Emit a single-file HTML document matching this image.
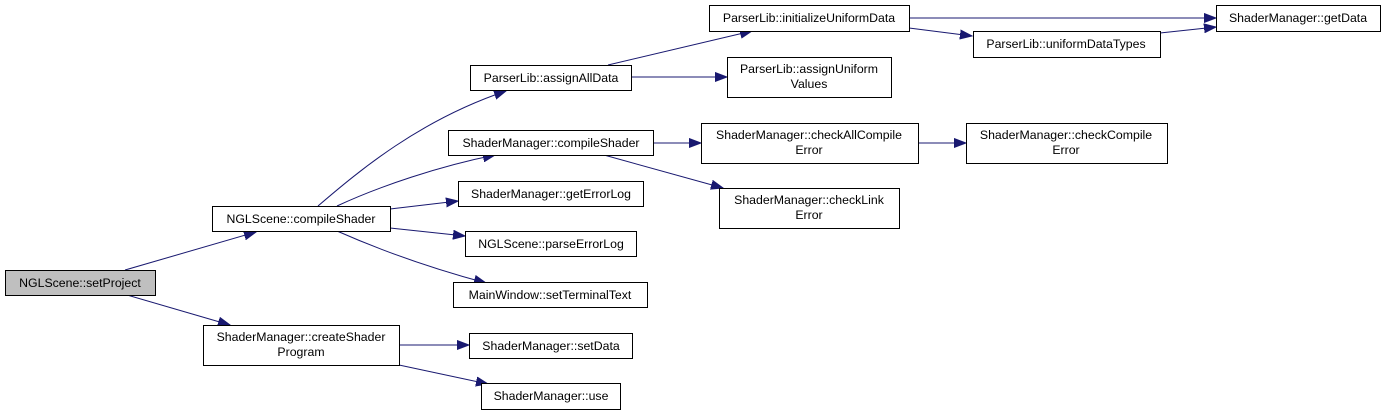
<!DOCTYPE html>
<html><head><meta charset="utf-8"><style>
html,body{margin:0;padding:0;background:#fff;}
svg{display:block;}
text{font-family:"Liberation Sans",Arial,sans-serif;font-size:12.3px;fill:#000;text-anchor:middle;}
.b{fill:#fff;stroke:#000;stroke-width:1;}
.e{fill:none;stroke:#191970;stroke-width:1;marker-end:url(#a);}
</style></head><body>
<svg width="1387" height="415" viewBox="0 0 1387 415" xmlns="http://www.w3.org/2000/svg">
<defs><marker id="a" markerUnits="userSpaceOnUse" markerWidth="13" markerHeight="10" refX="12" refY="5" orient="auto"><path d="M0,0.5 L12,5 L0,9.5 Z" fill="#191970" stroke="#191970"/></marker></defs>
<path class="e" d="M125,270 L256,232"/>
<path class="e" d="M127,295 L230,325"/>
<path class="e" d="M318,206 C360,170 420,120 506,91"/>
<path class="e" d="M337,206 C380,186 440,166 495,155"/>
<path class="e" d="M390,209 L458,201"/>
<path class="e" d="M390,228 L465,236"/>
<path class="e" d="M337,231 C380,250 430,268 486,283"/>
<path class="e" d="M399,345 L469,345"/>
<path class="e" d="M399,365 L488,384"/>
<path class="e" d="M608,65 L752,31"/>
<path class="e" d="M631,77 L727,77"/>
<path class="e" d="M653,143 L701,143"/>
<path class="e" d="M604,155 L723,188"/>
<path class="e" d="M909,18 L1216,18"/>
<path class="e" d="M909,28 L972,36"/>
<path class="e" d="M1160,33 L1216,27"/>
<path class="e" d="M918,143 L966,143"/>
<rect x="5.5" y="270.5" width="150" height="25" fill="#bfbfbf" stroke="#000"/>
<text x="80" y="287">NGLScene::setProject</text>
<rect class="b" x="212.5" y="206.5" width="178" height="25"/><text x="301" y="223">NGLScene::compileShader</text>
<rect class="b" x="203.5" y="325.5" width="196" height="40"/><text x="301" y="341">ShaderManager::createShader</text><text x="301" y="356">Program</text>
<rect class="b" x="470.5" y="65.5" width="161" height="25"/><text x="551" y="82">ParserLib::assignAllData</text>
<rect class="b" x="709.5" y="5.5" width="200" height="26"/><text x="809" y="22">ParserLib::initializeUniformData</text>
<rect class="b" x="727.5" y="57.5" width="164" height="40"/><text x="809" y="73">ParserLib::assignUniform</text><text x="809" y="88">Values</text>
<rect class="b" x="448.5" y="130.5" width="205" height="25"/><text x="551" y="147">ShaderManager::compileShader</text>
<rect class="b" x="458.5" y="181.5" width="185" height="25"/><text x="551" y="198">ShaderManager::getErrorLog</text>
<rect class="b" x="465.5" y="231.5" width="171" height="25"/><text x="551" y="248">NGLScene::parseErrorLog</text>
<rect class="b" x="453.5" y="282.5" width="194" height="25"/><text x="550" y="299">MainWindow::setTerminalText</text>
<rect class="b" x="469.5" y="333.5" width="163" height="25"/><text x="551" y="350">ShaderManager::setData</text>
<rect class="b" x="481.5" y="383.5" width="139" height="26"/><text x="551" y="400">ShaderManager::use</text>
<rect class="b" x="701.5" y="123.5" width="217" height="40"/><text x="809" y="139">ShaderManager::checkAllCompile</text><text x="809" y="154">Error</text>
<rect class="b" x="719.5" y="188.5" width="180" height="40"/><text x="809" y="204">ShaderManager::checkLink</text><text x="809" y="219">Error</text>
<rect class="b" x="1216.5" y="5.5" width="164" height="26"/><text x="1298" y="22">ShaderManager::getData</text>
<rect class="b" x="973.5" y="31.5" width="187" height="26"/><text x="1066" y="48">ParserLib::uniformDataTypes</text>
<rect class="b" x="966.5" y="123.5" width="201" height="40"/><text x="1066" y="139">ShaderManager::checkCompile</text><text x="1066" y="154">Error</text>
</svg>
</body></html>
